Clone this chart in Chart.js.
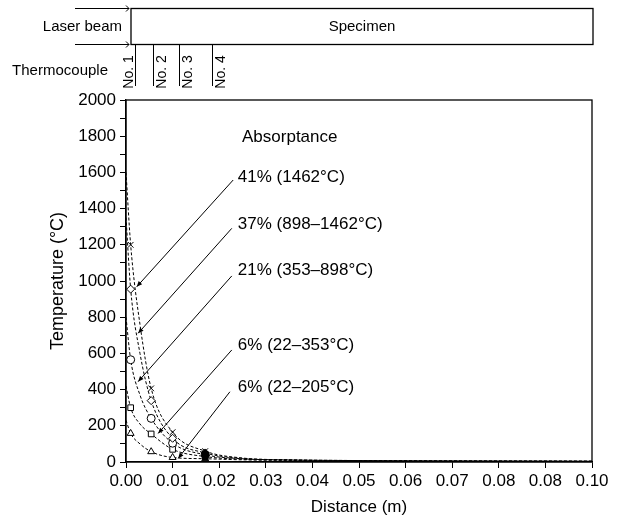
<!DOCTYPE html>
<html>
<head>
<meta charset="utf-8">
<script src="https://cdn.jsdelivr.net/npm/chart.js@4.4.0/dist/chart.umd.min.js"></script>
<style>
html, body { margin: 0; padding: 0; background: #fff; }
#wrap { width: 618px; height: 521px; }
</style>
</head>
<body>
<div id="wrap"><canvas id="myChart"></canvas></div>
<script>
// axis ticks (the original prints 0.08 twice)
const xTickValues = [0, 0.01, 0.02, 0.03, 0.04, 0.05, 0.06, 0.07, 0.08, 0.09, 0.10];
const xTickLabels = ['0.00', '0.01', '0.02', '0.03', '0.04', '0.05', '0.06', '0.07', '0.08', '0.08', '0.10'];
const yTickValues = [0, 100, 200, 300, 400, 500, 600, 700, 800, 900, 1000, 1100, 1200, 1300, 1400, 1500, 1600, 1700, 1800, 1900, 2000];
const yTickLabels = ['0', '200', '400', '600', '800', '1000', '1200', '1400', '1600', '1800', '2000'];

// measured temperatures at the thermocouples
const measuredX = [0.001, 0.0054, 0.010, 0.017];
const crossT = [1200, 407, 165, 60];
const diamondT = [955, 339, 131, 50];
const circleT = [565, 241, 104, 40];
const squareT = [300, 155, 70, 30];
const triangleT = [158, 57, 25, 18];

// dashed fitted curves
const curveX = [0, 0.001, 0.003, 0.0054, 0.010, 0.017, 0.025, 0.035, 0.05, 0.10];
const crossCurve = [1600, 1200, 760, 407, 165, 60, 22, 12, 8, 4];
const diamondCurve = [1350, 955, 600, 339, 131, 50, 20, 12, 8, 4];
const circleCurve = [800, 565, 370, 241, 104, 40, 18, 11, 8, 4];
const squareCurve = [420, 300, 210, 155, 70, 30, 15, 10, 7, 4];
const triangleCurve = [230, 158, 100, 57, 25, 18, 12, 9, 6, 4];

// absorptance labels and leader arrows (in data units)
const labelTexts = ['41% (1462°C)', '37% (898–1462°C)', '21% (353–898°C)', '6% (22–353°C)', '6% (22–205°C)'];
const labelY = [1575, 1315, 1061, 646, 414];
const arrowFrom = [[0.0230, 1558], [0.0227, 1291], [0.0227, 1028], [0.0227, 619], [0.0223, 388]];
const arrowTo = [[0.0023, 968], [0.0026, 711], [0.0026, 444], [0.0069, 158], [0.0112, 20]];

// thermocouple positions in the sketch above the plot
const thermoX = [0.0019, 0.0058, 0.0114, 0.0185];
const thermoNames = ['No. 1', 'No. 2', 'No. 3', 'No. 4'];

const FONT = "'Liberation Sans', Arial, sans-serif";
Chart.defaults.font.family = FONT;
Chart.defaults.color = '#000';

const toXY = (xs, ys) => xs.map((x, i) => ({ x: x, y: ys[i] }));

function curve(values) {
    return {
        type: 'line',
        data: toXY(curveX, values),
        borderColor: '#000',
        borderWidth: 1,
        borderDash: [3, 2],
        pointRadius: 0,
        cubicInterpolationMode: 'monotone',
        fill: false,
        order: 2
    };
}

function markers(values, style) {
    return {
        type: 'scatter',
        data: toXY(measuredX, values),
        showLine: false,
        pointStyle: style,
        pointRadius: 4,
        borderColor: '#000',
        borderWidth: 1,
        pointBackgroundColor: ['#fff', '#fff', '#fff', '#000'],
        order: 1
    };
}

const sketchPlugin = {
    id: 'sketch',
    afterDraw(chart) {
        const { ctx, chartArea, scales } = chart;
        const x = scales.x, y = scales.y;
        ctx.save();
        ctx.strokeStyle = '#000';
        ctx.fillStyle = '#000';

        // plot frame
        ctx.lineWidth = 1.3;
        ctx.strokeRect(chartArea.left, chartArea.top, chartArea.right - chartArea.left, chartArea.bottom - chartArea.top);

        // specimen box
        const boxL = chartArea.left + 5, boxR = chartArea.right + 1, boxT = 8.5, boxB = 44.5;
        ctx.lineWidth = 1.3;
        ctx.strokeRect(boxL, boxT, boxR - boxL, boxB - boxT);
        ctx.font = '15px ' + FONT;
        ctx.textBaseline = 'middle';
        ctx.textAlign = 'center';
        ctx.fillText('Specimen', (boxL + boxR) / 2, 27);
        ctx.textAlign = 'right';
        ctx.fillText('Laser beam', 122, 27);
        ctx.fillText('Thermocouple', 108, 71);

        // laser beam arrows
        ctx.lineWidth = 1;
        [boxT, boxB].forEach(yy => {
            ctx.beginPath();
            ctx.moveTo(75, yy);
            ctx.lineTo(boxL - 2, yy);
            ctx.moveTo(boxL - 5, yy - 3);
            ctx.lineTo(boxL - 2, yy);
            ctx.lineTo(boxL - 5, yy + 3);
            ctx.stroke();
        });

        // thermocouples
        ctx.font = '14px ' + FONT;
        thermoX.forEach((tx, i) => {
            const px = Math.round(x.getPixelForValue(tx)) + 0.5;
            ctx.beginPath();
            ctx.moveTo(px, boxB);
            ctx.lineTo(px, 86);
            ctx.stroke();
            ctx.save();
            ctx.translate(i === 0 ? px - 6 : px + 9, 72);
            ctx.rotate(-Math.PI / 2);
            ctx.textAlign = 'center';
            ctx.textBaseline = 'middle';
            ctx.fillText(thermoNames[i], 0, 0);
            ctx.restore();
        });

        // absorptance labels
        ctx.font = '17px ' + FONT;
        ctx.textAlign = 'left';
        ctx.textBaseline = 'middle';
        ctx.fillText('Absorptance', x.getPixelForValue(0.0249), y.getPixelForValue(1796));
        labelTexts.forEach((t, i) => {
            ctx.fillText(t, x.getPixelForValue(0.0240), y.getPixelForValue(labelY[i]));
        });

        // leader arrows
        ctx.lineWidth = 1;
        arrowFrom.forEach((f, i) => {
            const x0 = x.getPixelForValue(f[0]), y0 = y.getPixelForValue(f[1]);
            const x1 = x.getPixelForValue(arrowTo[i][0]), y1 = y.getPixelForValue(arrowTo[i][1]);
            ctx.beginPath();
            ctx.moveTo(x0, y0);
            ctx.lineTo(x1, y1);
            ctx.stroke();
            const a = Math.atan2(y1 - y0, x1 - x0);
            ctx.beginPath();
            ctx.moveTo(x1, y1);
            ctx.lineTo(x1 - 6 * Math.cos(a - 0.4), y1 - 6 * Math.sin(a - 0.4));
            ctx.lineTo(x1 - 6 * Math.cos(a + 0.4), y1 - 6 * Math.sin(a + 0.4));
            ctx.closePath();
            ctx.fill();
        });
        ctx.restore();
    }
};

const ctx = document.getElementById('myChart').getContext('2d');
const myChart = new Chart(ctx, {
    type: 'scatter',
    data: {
        datasets: [
            curve(crossCurve),
            curve(diamondCurve),
            curve(circleCurve),
            curve(squareCurve),
            curve(triangleCurve),
            markers(crossT, 'crossRot'),
            markers(diamondT, 'rectRot'),
            markers(circleT, 'circle'),
            markers(squareT, 'rect'),
            markers(triangleT, 'triangle')
        ]
    },
    options: {
        responsive: true,
        maintainAspectRatio: false,
        animation: false,
        layout: {
            padding: { left: 47, top: 100, right: 26, bottom: 3 }
        },
        scales: {
            x: {
                type: 'linear',
                min: 0,
                max: 0.10,
                afterBuildTicks: s => { s.ticks = xTickValues.map(v => ({ value: v })); },
                afterFit: s => { s.height = 56; },
                ticks: {
                    padding: 3,
                    maxRotation: 0,
                    autoSkip: false,
                    font: { size: 17 },
                    callback: (v, i) => xTickLabels[i]
                },
                grid: {
                    drawOnChartArea: false,
                    color: '#000',
                    tickLength: 6
                },
                border: { color: '#000', width: 1.3 },
                title: {
                    display: true,
                    text: 'Distance (m)',
                    font: { size: 17 },
                    padding: 0
                }
            },
            y: {
                type: 'linear',
                min: 0,
                max: 2000,
                afterBuildTicks: s => { s.ticks = yTickValues.map(v => ({ value: v })); },
                afterFit: s => { s.width = 79; },
                ticks: {
                    padding: 4,
                    autoSkip: false,
                    font: { size: 17 },
                    callback: v => (v % 200 === 0 ? yTickLabels[v / 200] : '')
                },
                grid: {
                    drawOnChartArea: false,
                    color: '#000',
                    tickLength: 6
                },
                border: { color: '#000', width: 1.3 },
                title: {
                    display: true,
                    text: 'Temperature (°C)',
                    font: { size: 18 },
                    padding: 0
                }
            }
        },
        plugins: {
            legend: { display: false },
            tooltip: { enabled: false }
        }
    },
    plugins: [sketchPlugin]
});
</script>
</body>
</html>
